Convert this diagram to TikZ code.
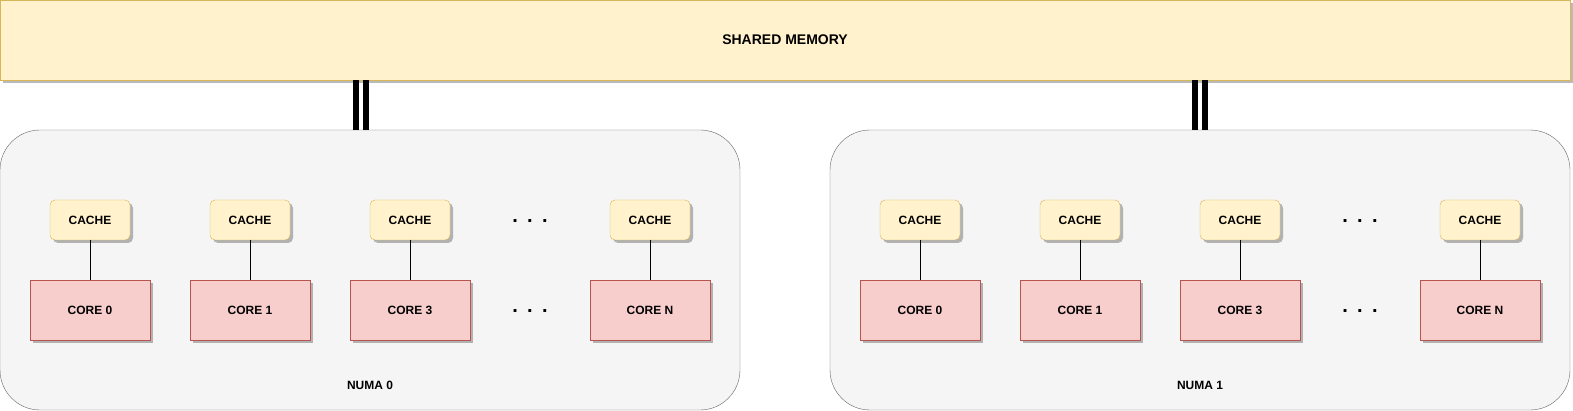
\documentclass[tikz,border=0pt]{standalone}
\usepackage{fontspec}
\setmainfont{Liberation Sans}
\usetikzlibrary{positioning,shadows}

\definecolor{memfill}{HTML}{FFF2CC}
\definecolor{memline}{HTML}{D6B656}
\definecolor{corefill}{HTML}{F8CECC}
\definecolor{coreline}{HTML}{B85450}
\definecolor{numafill}{HTML}{F5F5F5}
\definecolor{numaline}{HTML}{666666}

\tikzstyle{boxshadow} = [drop shadow={shadow xshift=3pt, shadow yshift=-3pt, fill=black, opacity=0.27}]
\tikzstyle{memblock} = [rectangle, draw=memline, fill=memfill, minimum width=1570pt, minimum height=80pt, inner sep=0pt, outer sep=0pt, boxshadow, font=\fontsize{14}{16}\selectfont\bfseries]
\tikzstyle{numablock} = [rectangle, draw=numaline, fill=numafill, minimum width=740pt, minimum height=280pt, inner sep=0pt, outer sep=0pt, rounded corners=40pt]
\tikzstyle{cacheblock} = [rectangle, draw=memline, fill=memfill, minimum width=80pt, minimum height=40pt, inner sep=0pt, outer sep=0pt, rounded corners=5pt, boxshadow, font=\fontsize{12}{14}\selectfont\bfseries]
\tikzstyle{coreblock} = [rectangle, draw=coreline, fill=corefill, minimum width=120pt, minimum height=60pt, inner sep=0pt, outer sep=0pt, boxshadow, font=\fontsize{12}{14}\selectfont\bfseries]
\tikzstyle{numatext} = [inner sep=0pt, font=\fontsize{12}{14}\selectfont\bfseries]
\tikzstyle{dots} = [inner sep=0pt, font=\fontsize{20}{20}\selectfont\bfseries]
\tikzstyle{wire} = [line width=1pt, black]
\tikzstyle{memlink} = [line width=6.5pt, black]

\begin{document}
\begin{tikzpicture}[x=1pt, y=-1pt]
    \useasboundingbox (0,0) rectangle (1573,411);
    \node (sharedmem) [memblock] at (785,40) {SHARED MEMORY};
    \foreach \n/\dx/\px in {0/0/361, 1/830/1200} {
        \node (numa\n) [numablock] at (370+\dx,270) {};
        \node (numalabel\n) [numatext] at (370+\dx,385) {NUMA \n};
        \node (cache\n a) [cacheblock] at (90+\dx,220) {CACHE};
        \node (cache\n b) [cacheblock, right=80pt of cache\n a] {CACHE};
        \node (cache\n c) [cacheblock, right=80pt of cache\n b] {CACHE};
        \node (cache\n d) [cacheblock, right=160pt of cache\n c] {CACHE};
        \node (core\n a) [coreblock, below=40pt of cache\n a] {CORE 0};
        \node (core\n b) [coreblock, below=40pt of cache\n b] {CORE 1};
        \node (core\n c) [coreblock, below=40pt of cache\n c] {CORE 3};
        \node (core\n d) [coreblock, below=40pt of cache\n d] {CORE N};
        \node (cachedots\n) [dots] at (530+\dx,221) {.\hspace{9.4pt}.\hspace{9.4pt}.};
        \node (coredots\n) [dots] at (530+\dx,311) {.\hspace{9.4pt}.\hspace{9.4pt}.};
        \draw [wire] (cache\n a) -- (core\n a);
        \draw [wire] (cache\n b) -- (core\n b);
        \draw [wire] (cache\n c) -- (core\n c);
        \draw [wire] (cache\n d) -- (core\n d);
        % double link to shared memory
        \coordinate (tap\n) at (\px,80);
        \coordinate (port\n) at (\px,130);
        \draw [memlink] ([xshift=-5pt]tap\n) -- ([xshift=-5pt]port\n);
        \draw [memlink] ([xshift=5pt]tap\n) -- ([xshift=5pt]port\n);
    }
\end{tikzpicture}
\end{document}
